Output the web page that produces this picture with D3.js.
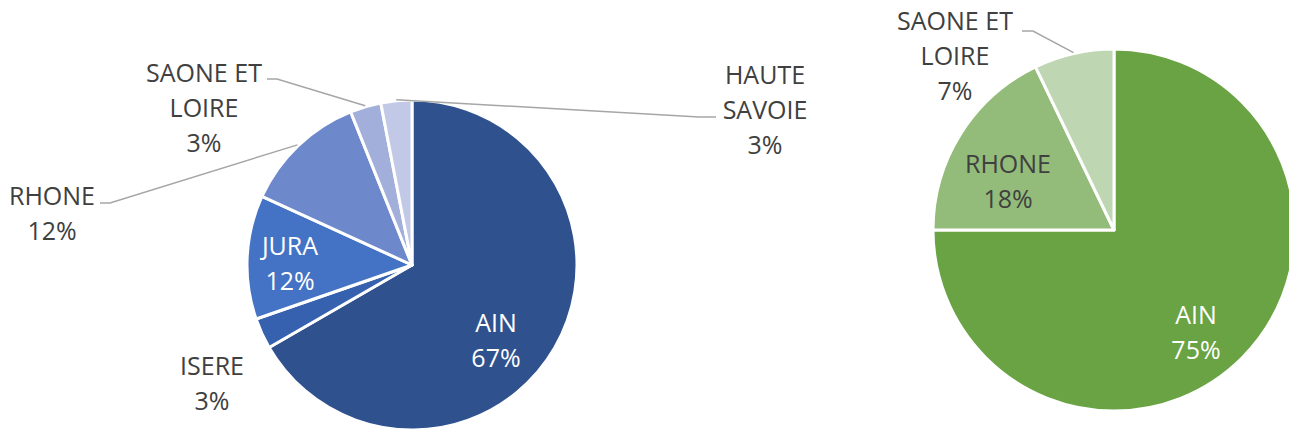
<!DOCTYPE html>
<html>
<head>
<meta charset="utf-8">
<script src="https://cdn.jsdelivr.net/npm/d3@7"></script>
<style>
  body { margin: 0; background: #fff; }
  svg text { font-family: "Open Sans", sans-serif; font-size: 25px; }
</style>
</head>
<body>
<div id="chart"></div>
<script>
// data: number of entries per departement (shares shown as %)
const leftCategories = ["AIN", "ISERE", "JURA", "RHONE", "SAONE ET LOIRE", "HAUTE SAVOIE"];
const leftValues = [22, 1, 4, 4, 1, 1];
const leftLabelLines = [["AIN"], ["ISERE"], ["JURA"], ["RHONE"], ["SAONE ET", "LOIRE"], ["HAUTE", "SAVOIE"]];

const rightCategories = ["AIN", "RHONE", "SAONE ET LOIRE"];
const rightValues = [21, 5, 2];
const rightLabelLines = [["AIN"], ["RHONE"], ["SAONE ET", "LOIRE"]];

const width = 1289;
const height = 431;
const lineH = 35;

const svg = d3.select("#chart").append("svg").attr("width", width).attr("height", height);

// layout for each pie: center, radius, colours, label placement
const leftLayout = {
    cx: 412, cy: 265, r: 165,
    colors: ["#2F528F", "#3561AE", "#4472C4", "#6E89CB", "#A1AFDA", "#C1C9E6"],
    textColors: ["#fff", "#404040", "#fff", "#404040", "#404040", "#404040"],
    // label block centre (x, first line y) relative to pie center
    labels: [[84, 58], [-200, 101], [-122, -19], [-360, -69], [-208, -192], [353, -190]],
    // leader: horizontal stub beside the label, null if none
    leaders: [null, null, null, [-312, -62, -302, -62], [-145, -186, -135, -186], [304, -148, 287, -148]]
};
const rightLayout = {
    cx: 1114, cy: 230, r: 181,
    colors: ["#69A343", "#93BC7A", "#BFD6B2"],
    textColors: ["#fff", "#404040", "#404040"],
    labels: [[82, 85], [-106, -66], [-159, -209]],
    leaders: [null, null, [-92, -199, -81, -199]]
};

function drawPie(values, lines, layout) {
    const total = d3.sum(values);
    const g = svg.append("g").attr("transform", `translate(${layout.cx}, ${layout.cy})`);
    const pie = d3.pie().sort(null).value((d) => d);
    const arcs = pie(values);
    const arc = d3.arc().innerRadius(0).outerRadius(layout.r);
    const edgeArc = d3.arc().innerRadius(layout.r + 1).outerRadius(layout.r + 1);

    g.selectAll("path.slice")
        .data(arcs)
        .enter()
        .append("path")
        .attr("class", "slice")
        .attr("d", arc)
        .attr("fill", (d, i) => layout.colors[i])
        .attr("stroke", "#fff")
        .attr("stroke-width", 3)
        .attr("stroke-linejoin", "round");

    // leader lines from the slice edge to the label
    arcs.forEach((a, i) => {
        const l = layout.leaders[i];
        if (!l) return;
        const p = edgeArc.centroid(a);
        g.append("polyline")
            .attr("points", `${p[0]},${p[1]} ${l[2]},${l[3]} ${l[0]},${l[1]}`)
            .attr("fill", "none")
            .attr("stroke", "#A6A6A6")
            .attr("stroke-width", 1.5);
    });

    arcs.forEach((a, i) => {
        const pct = Math.round(a.value / total * 100) + "%";
        const rows = lines[i].concat([pct]);
        const t = g.append("text")
            .attr("text-anchor", "middle")
            .attr("fill", layout.textColors[i]);
        rows.forEach((row, k) => {
            t.append("tspan")
                .attr("x", layout.labels[i][0])
                .attr("y", layout.labels[i][1] + k * lineH)
                .attr("dy", "0.35em")
                .text(row);
        });
    });
}

drawPie(leftValues, leftLabelLines, leftLayout);
drawPie(rightValues, rightLabelLines, rightLayout);
</script>
</body>
</html>
